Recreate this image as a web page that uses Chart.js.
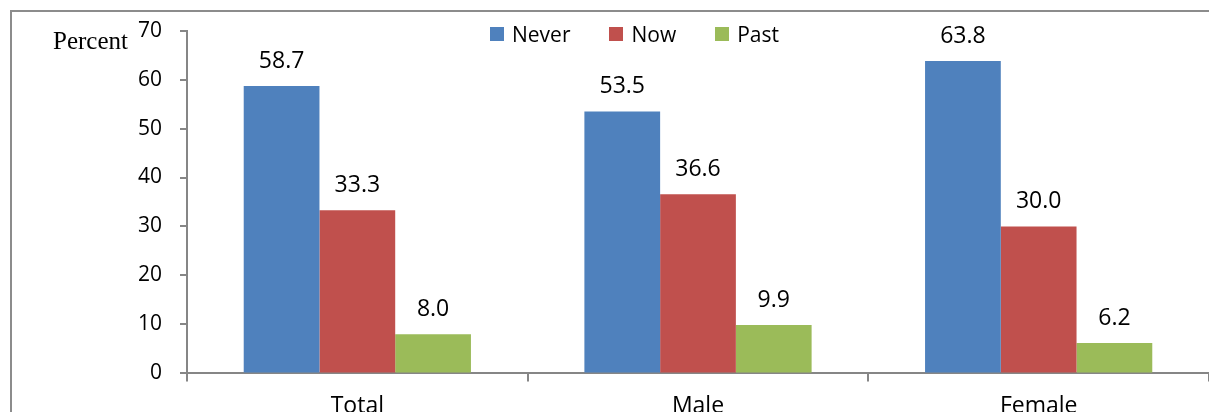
<!DOCTYPE html>
<html>
<head>
<meta charset="utf-8">
<script src="https://cdn.jsdelivr.net/npm/chart.js@4/dist/chart.umd.min.js"></script>
<style>
  html, body { margin: 0; background: #fff; overflow: hidden; }
  #wrap { position: absolute; left: 0; top: 0; width: 1209px; height: 431px; }
  #legend {
    position: absolute; top: 20px; left: 490px;
    display: flex; align-items: center; height: 28px;
    font-family: 'Open Sans', sans-serif; font-size: 21px; color: #000;
  }
  #legend .item { display: flex; align-items: center; margin-right: 39px; }
  #legend .box { width: 14px; height: 14px; margin-right: 8px; }
</style>
</head>
<body>
<div id="wrap"><canvas id="chart"></canvas></div>
<div id="legend"></div>
<script>
const categories = ['Total', 'Male', 'Female'];
const seriesNames = ['Never', 'Now', 'Past'];
const neverValues = [58.7, 53.5, 63.8];
const nowValues = [33.3, 36.6, 30.0];
const pastValues = [8.0, 9.9, 6.2];
const seriesColors = ['#4F81BD', '#C0504D', '#9BBB59'];
const yTicks = [0, 10, 20, 30, 40, 50, 60, 70];

const axisGray = '#868686';
const seriesValues = [neverValues, nowValues, pastValues];

// HTML legend so the spacing can match the original
const legendEl = document.getElementById('legend');
seriesNames.forEach((name, i) => {
    const item = document.createElement('div');
    item.className = 'item';
    const box = document.createElement('span');
    box.className = 'box';
    box.style.background = seriesColors[i];
    const label = document.createElement('span');
    label.innerText = name;
    item.appendChild(box);
    item.appendChild(label);
    legendEl.appendChild(item);
});

// outer chart frame (only top and left edges are visible in the crop)
const frame = {
    id: 'frame',
    beforeDraw(chart) {
        const ctx = chart.ctx;
        ctx.save();
        ctx.strokeStyle = '#8c8c8c';
        ctx.lineWidth = 2;
        ctx.beginPath();
        ctx.moveTo(11, chart.height);
        ctx.lineTo(11, 11);
        ctx.lineTo(chart.width, 11);
        ctx.stroke();
        ctx.restore();
    }
};

// value labels above each bar
const barLabels = {
    id: 'barLabels',
    afterDatasetsDraw(chart) {
        const ctx = chart.ctx;
        ctx.save();
        ctx.font = '23px "Open Sans"';
        ctx.fillStyle = '#000';
        ctx.textAlign = 'center';
        ctx.textBaseline = 'alphabetic';
        chart.data.datasets.forEach((ds, i) => {
            chart.getDatasetMeta(i).data.forEach((bar, j) => {
                ctx.fillText(ds.data[j].toFixed(1), bar.x, bar.y - 18);
            });
        });
        ctx.restore();
    }
};

// "Percent" unit text next to the top tick
const unitLabel = {
    id: 'unitLabel',
    afterDraw(chart) {
        const ctx = chart.ctx;
        ctx.save();
        ctx.font = '25px "Liberation Serif"';
        ctx.fillStyle = '#000';
        ctx.textAlign = 'right';
        ctx.textBaseline = 'alphabetic';
        ctx.fillText('Percent', 128, chart.scales.y.top + 18);
        ctx.restore();
    }
};

const ctx = document.getElementById('chart').getContext('2d');
new Chart(ctx, {
    type: 'bar',
    data: {
        labels: categories,
        datasets: seriesNames.map((name, i) => ({
            label: name,
            data: seriesValues[i],
            backgroundColor: seriesColors[i],
            borderWidth: 0,
            barPercentage: 1.0,
            categoryPercentage: 0.667
        }))
    },
    options: {
        responsive: true,
        maintainAspectRatio: false,
        animation: false,
        layout: { padding: { top: 30, left: 127, right: 0, bottom: 0 } },
        plugins: {
            legend: { display: false },
            tooltip: { enabled: false }
        },
        scales: {
            x: {
                offset: true,
                grid: { drawOnChartArea: false, tickLength: 8, color: axisGray, lineWidth: 2 },
                border: { color: axisGray, width: 2 },
                ticks: { color: '#000', padding: 11, font: { family: 'Open Sans', size: 23 } }
            },
            y: {
                min: 0,
                max: 70,
                afterFit(scale) { scale.width = 60; },
                afterBuildTicks(scale) { scale.ticks = yTicks.map(v => ({ value: v })); },
                grid: { drawOnChartArea: false, tickLength: 7, color: axisGray, lineWidth: 2 },
                border: { color: axisGray, width: 2 },
                ticks: { color: '#000', padding: 18, font: { family: 'Open Sans', size: 21 } }
            }
        }
    },
    plugins: [frame, barLabels, unitLabel]
});
</script>
</body>
</html>
